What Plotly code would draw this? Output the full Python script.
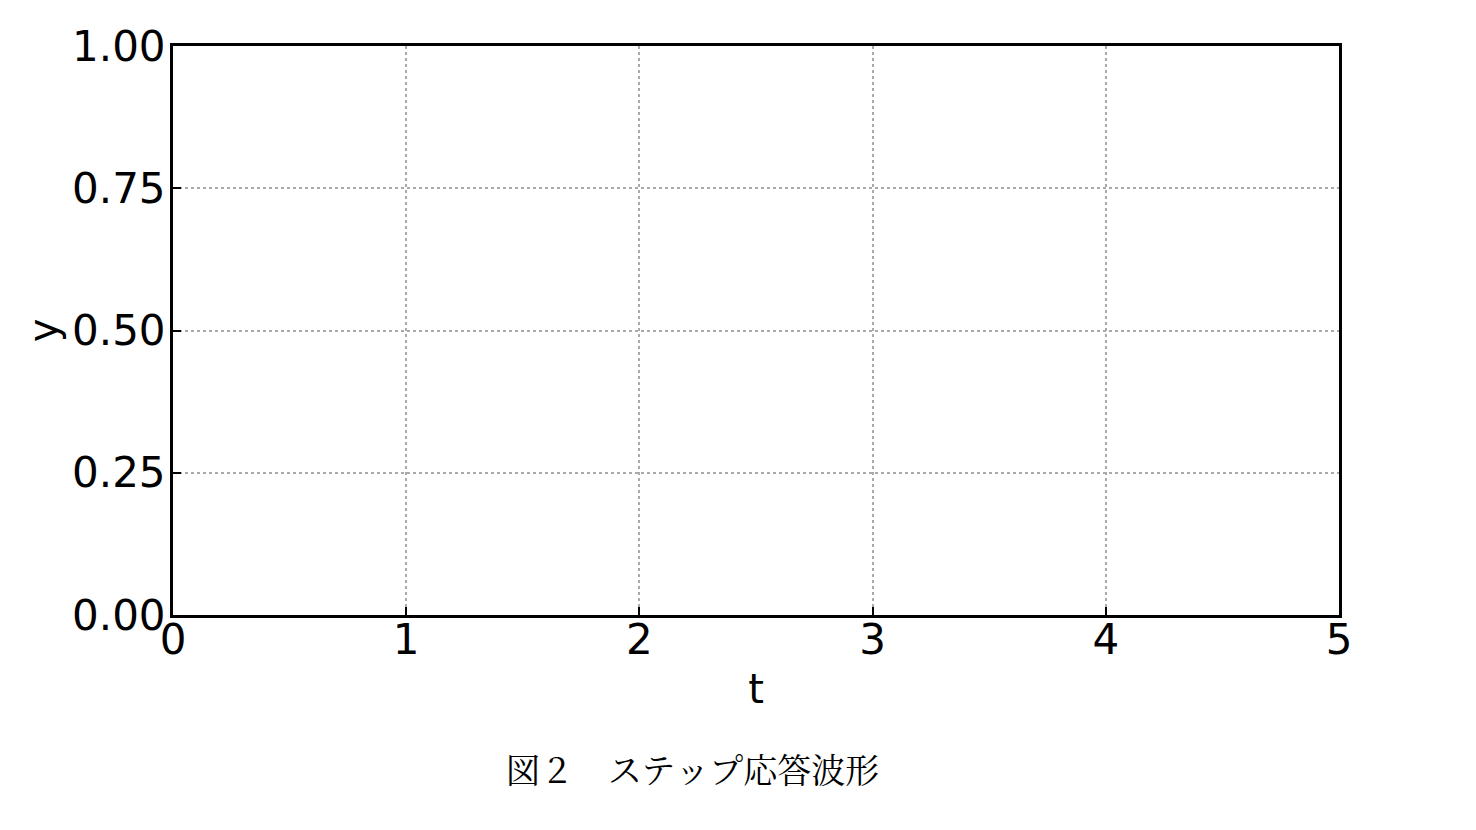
import plotly.graph_objects as go

# step response data (empty in the reference figure)
t = []
y = []

x_ticks = [0, 1, 2, 3, 4, 5]
y_ticks = [0.0, 0.25, 0.5, 0.75, 1.0]
y_tick_text = ["0.00", "0.25", "0.50", "0.75", "1.00"]
caption = "図２　ステップ応答波形"

fig = go.Figure()
fig.add_trace(go.Scatter(x=t, y=y, mode="lines", line=dict(color="#1f77b4", width=3), showlegend=False))

axis_common = dict(
    showline=True, linecolor="black", linewidth=3, mirror=True,
    ticks="inside", ticklen=8, tickwidth=2, tickcolor="black",
    showgrid=True, gridcolor="#aaaaaa", gridwidth=1.5, griddash="dot",
    zeroline=False,
    tickfont=dict(family="DejaVu Sans", size=42, color="black"),
)

fig.update_xaxes(
    range=[0, 5], tickvals=x_ticks,
    title=dict(text="t", font=dict(family="DejaVu Sans", size=40, color="black"), standoff=12),
    ticklabelstandoff=-14,
    **axis_common,
)
fig.update_yaxes(
    range=[0, 1], tickvals=y_ticks, ticktext=y_tick_text,
    title=dict(text="y", font=dict(family="DejaVu Sans", size=40, color="black"), standoff=3),
    ticklabelstandoff=-4,
    **axis_common,
)

fig.add_annotation(
    text=caption, xref="paper", yref="paper", x=0.4456, y=-0.269,
    xanchor="center", yanchor="middle", showarrow=False,
    font=dict(family="Noto Serif CJK JP, Noto Sans CJK JP, serif", size=34, color="black"),
)

fig.update_layout(
    width=1460, height=814,
    margin=dict(l=165, r=129, t=38, b=207),
    plot_bgcolor="white", paper_bgcolor="white",
)

fig.write_html("out.html")
